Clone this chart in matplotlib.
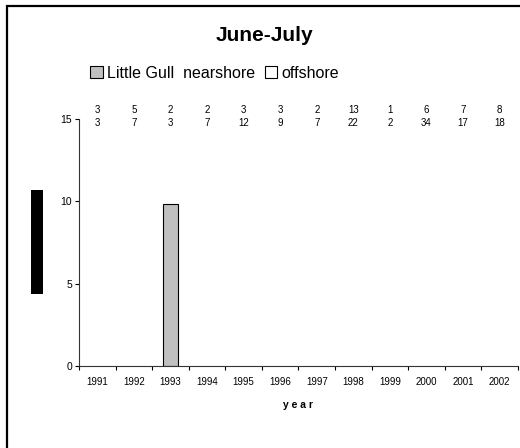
import matplotlib.pyplot as plt
from matplotlib.patches import Rectangle
import numpy as np

plt.rcParams['font.family'] = ['Liberation Sans', 'DejaVu Sans']

years = ["1991", "1992", "1993", "1994", "1995", "1996", "1997", "1998", "1999", "2000", "2001", "2002"]
nearshore = [0, 0, 9.85, 0, 0, 0, 0, 0, 0, 0, 0, 0]
offshore = [0, 0, 0, 0, 0, 0, 0, 0, 0, 0, 0, 0]
n_near = [3, 5, 2, 2, 3, 3, 2, 13, 1, 6, 7, 8]
n_off = [3, 7, 3, 7, 12, 9, 7, 22, 2, 34, 17, 18]

fig = plt.figure(figsize=(5.2, 4.48), dpi=100)
ax = fig.add_axes([0.152, 0.183, 0.844, 0.551])

x = np.arange(len(years))
b1 = ax.bar(x, nearshore, 0.41, color="#c0c0c0", edgecolor="black",
            linewidth=[0.8 if v > 0 else 0 for v in nearshore], label="Little Gull  nearshore")
b2 = ax.bar(x, offshore, 0.41, bottom=nearshore, color="white", edgecolor="black",
            linewidth=[0.8 if v > 0 else 0 for v in offshore], label="offshore")

ax.set_xlim(-0.5, len(years) - 0.5)
ax.set_ylim(0, 15)
ax.set_yticks([0, 5, 10, 15])
ax.set_xticks(x)
ax.set_xticklabels(years, fontsize=7)
ax.set_xticks(np.arange(-0.5, len(years)), minor=True)
ax.tick_params(axis="x", which="major", length=0, pad=8)
ax.tick_params(axis="x", which="minor", length=3, width=0.8, direction="out")
ax.tick_params(axis="y", labelsize=7.5, length=3, width=0.8, direction="out", pad=2)
for s in ["top", "right"]:
    ax.spines[s].set_visible(False)
for s in ["left", "bottom"]:
    ax.spines[s].set_linewidth(0.8)
    ax.spines[s].set_color("#333333")

for i in range(len(years)):
    ax.text(x[i], 15.25, str(n_near[i]), ha="center", va="bottom", fontsize=7, clip_on=False)
    ax.text(x[i], 15.05, str(n_off[i]), ha="center", va="top", fontsize=7, clip_on=False)

ax.set_xlabel("y e a r", fontsize=7.5, fontweight="bold", labelpad=9)

fig.text(0.508, 0.921, "June-July", ha="center", va="center", fontsize=15, fontweight="bold")
leg = fig.legend([b1[2], b2[0]], ["Little Gull  nearshore", "offshore"], loc="center left",
                 bbox_to_anchor=(0.158, 0.837), ncol=2, frameon=False, fontsize=11.5,
                 handlelength=0.8, handleheight=0.8, handletextpad=0.25, columnspacing=0.6, borderpad=0)
for h in leg.legend_handles:
    h.set_linewidth(0.8)

# redacted y-axis label block
fig.patches.append(Rectangle((31 / 520, 1 - 294 / 448), 12 / 520, 104 / 448, transform=fig.transFigure,
                             facecolor="black", edgecolor="none"))
# outer chart frame
fig.patches.append(Rectangle((6.5 / 520, -0.1), 1.2, 1.1 - 6.5 / 448, transform=fig.transFigure,
                             facecolor="none", edgecolor="black", linewidth=1.6))

fig.savefig("out.png", dpi=100)
